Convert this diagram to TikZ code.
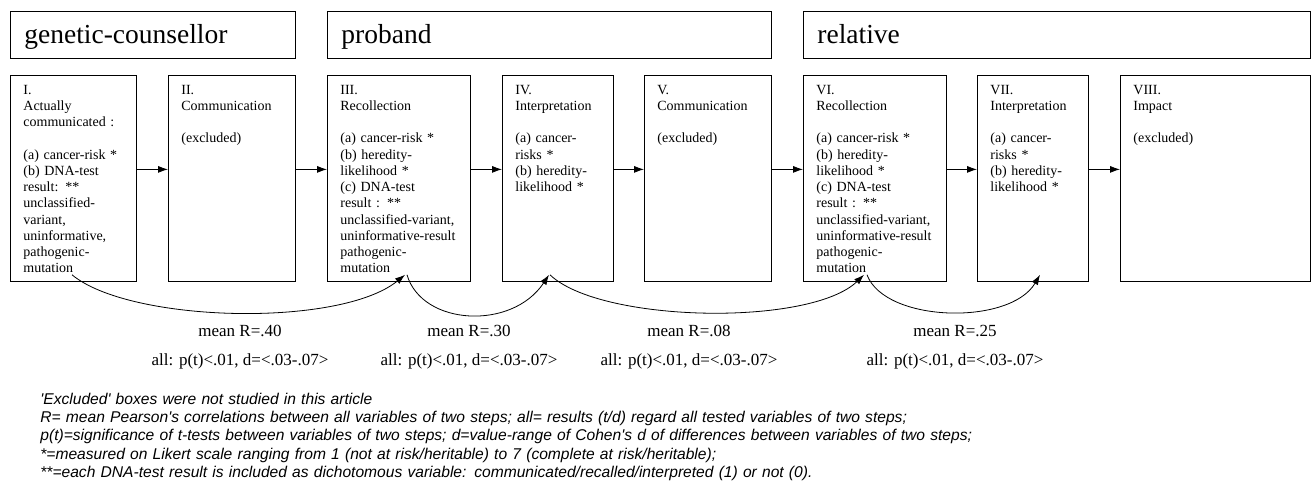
\documentclass[tikz,border=0pt]{standalone}
\usepackage{fontspec}
\setmainfont{Liberation Serif}
\newfontfamily\notefont{Liberation Sans}
\usetikzlibrary{arrows.meta}

\begin{document}
\begin{tikzpicture}[x=1pt, y=-1pt, line width=0.8pt, >={Latex[length=10pt,width=7pt]},
  groupbox/.style={draw, anchor=north west, inner xsep=14pt, inner ysep=0pt, align=left,
    text height=32pt, text depth=15pt, font=\fontsize{27.5}{30}\selectfont},
  stepbox/.style={draw, anchor=north west, inner xsep=13pt, inner ysep=0pt, align=left,
    text height=19pt, text depth=187pt,
    font={\fontsize{14}{16.2}\selectfont\hyphenpenalty=10000\exhyphenpenalty=10000}},
  stat/.style={anchor=base, inner sep=0pt, font=\fontsize{17}{20}\selectfont}]
\useasboundingbox (0,0) rectangle (1311,484);
% Actoren
\node[groupbox, text width=257pt] (gc) at (10,11) {genetic-counsellor};
\node[groupbox, text width=416pt] (pb) at (327,11) {proband};
\node[groupbox, text width=479pt] (rl) at (803,11) {relative};
% Stappen
\node[stepbox, text width=100pt] (s1) at (10,75) {I.\\Actually\\communicated :\\~\\(a) cancer-risk *\\(b) DNA-test\\result: **\\unclassified-\\variant,\\uninformative,\\pathogenic-\\mutation};
\node[stepbox, text width=101pt] (s2) at (168,75) {II.\\Communication\\~\\(excluded)};
\node[stepbox, text width=117pt] (s3) at (327,75) {III.\\Recollection\\~\\(a) cancer-risk *\\(b) heredity-\\likelihood *\\(c) DNA-test\\result : **\\unclassified-variant,\\uninformative-result\\pathogenic-\\mutation};
\node[stepbox, text width=85pt] (s4) at (502,75) {IV.\\Interpretation\\~\\(a) cancer-\\risks *\\(b) heredity-\\likelihood *};
\node[stepbox, text width=101pt] (s5) at (644,75) {V.\\Communication\\~\\(excluded)};
\node[stepbox, text width=117pt] (s6) at (803,75) {VI.\\Recollection\\~\\(a) cancer-risk *\\(b) heredity-\\likelihood *\\(c) DNA-test\\result : **\\unclassified-variant,\\uninformative-result\\pathogenic-\\mutation};
\node[stepbox, text width=85pt] (s7) at (977,75) {VII.\\Interpretation\\~\\(a) cancer-\\risks *\\(b) heredity-\\likelihood *};
\node[stepbox, text width=164pt] (s8) at (1120,75) {VIII.\\Impact\\~\\(excluded)};
% Pijlen tussen stappen
\foreach \i/\j in {1/2,2/3,3/4,4/5,5/6,6/7,7/8}
    \draw[->] ([yshift=9pt]s\i.east) -- ([yshift=9pt]s\j.west);
% Vergeleken stappen
\coordinate (a1) at ([shift={(62,-7)}]s1.south west);
\coordinate (b1) at ([shift={(78,-7)}]s3.south west);
\coordinate (a2) at ([shift={(80,-7)}]s3.south west);
\coordinate (b2) at ([shift={(47,-7)}]s4.south west);
\coordinate (a3) at ([shift={(48,-7)}]s4.south west);
\coordinate (b3) at ([shift={(61,-7)}]s6.south west);
\coordinate (a4) at ([shift={(64,-7)}]s6.south west);
\coordinate (b4) at ([shift={(63,-7)}]s7.south west);
\draw[->] (a1) .. controls +(58,48) and +(-65,53) .. (b1);
\draw[->] (a2) .. controls +(15,51) and +(-37,56) .. (b2);
\draw[->] (a3) .. controls +(50,48) and +(-54,52) .. (b3);
\draw[->] (a4) .. controls +(18,48) and +(-30,51) .. (b4);
% Statistieken
\foreach \x/\val [count=\k] in {240/.40,469/.30,689/.08,955/.25} {
    \node[stat] (m\k) at (\x,336) {mean R=\val};
    \node[stat] (p\k) at (\x,365) {all: p(t)<.01, d=<.03-.07>};
}
% Voetnoten
\node[anchor=north west, inner sep=0pt, align=left, text width=1250pt, text height=12pt,
  font=\notefont\itshape\fontsize{15.6}{18.2}\selectfont] (notes) at (40,392)
  {\textquotesingle Excluded\textquotesingle{} boxes were not studied in this article\\
   R= mean Pearson\textquotesingle s correlations between all variables of two steps; all= results (t/d) regard all tested variables of two steps;\\
   p(t)=significance of t-tests between variables of two steps; d=value-range of Cohen\textquotesingle s d of differences between variables of two steps;\\
   {*}=measured on Likert scale ranging from 1 (not at risk/heritable) to 7 (complete at risk/heritable);\\
   {**}=each DNA-test result is included as dichotomous variable: communicated/recalled/interpreted (1) or not (0).};
\end{tikzpicture}
\end{document}
